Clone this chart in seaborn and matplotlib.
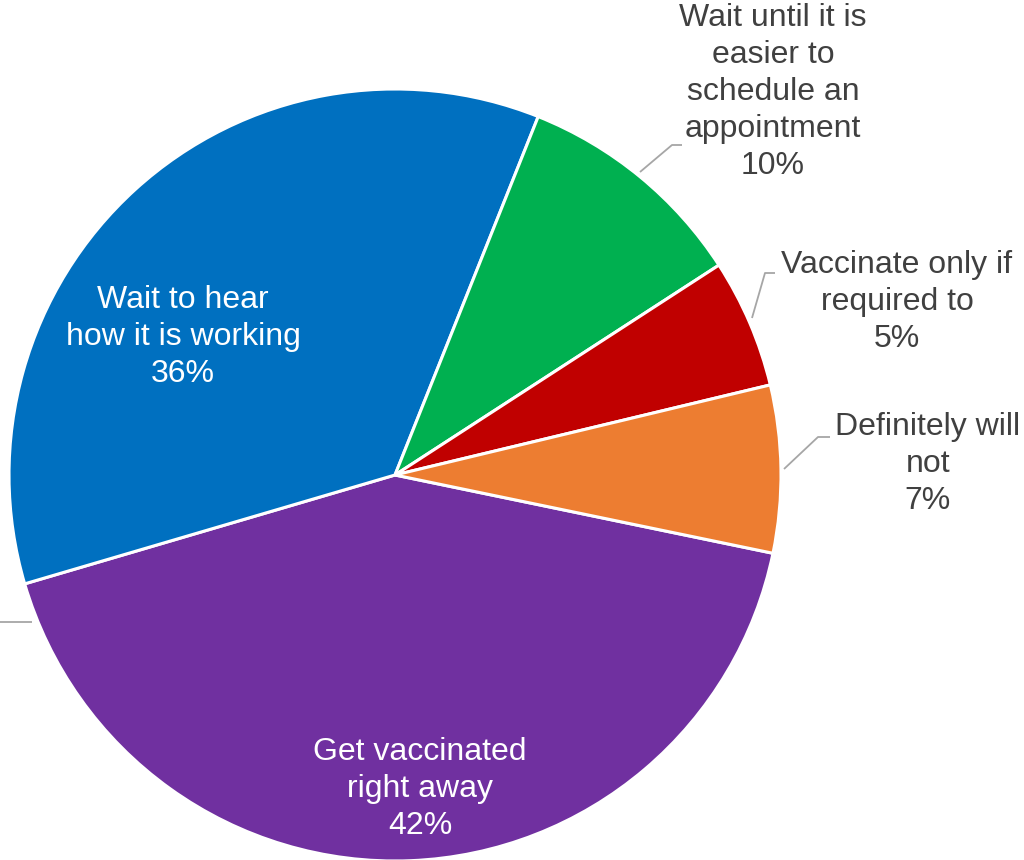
import matplotlib
matplotlib.use("Agg")
import matplotlib.pyplot as plt
import seaborn as sns

# data (clockwise order as drawn)
categories = ["Get vaccinated\nright away",
              "Wait to hear\nhow it is working",
              "Wait until it is\neasier to\nschedule an\nappointment",
              "Vaccinate only if\nrequired to",
              "Definitely will\nnot"]
shares = [42.2, 35.6, 9.8, 5.4, 7.0]
colors = ["#7030A0", "#0070C0", "#00B050", "#C00000", "#ED7D31"]

sns.set_theme(style="white")
plt.rcParams["font.family"] = ["Liberation Sans", "DejaVu Sans"]

W, H = 1024, 860
fig = plt.figure(figsize=(W / 100, H / 100), dpi=100)
ax = fig.add_axes([0, 0, 1, 1])

cx, cy, r = 395, H - 475, 386
ax.pie(shares, colors=colors, startangle=-11.7, counterclock=False,
       center=(cx, cy), radius=r, frame=True,
       wedgeprops=dict(edgecolor="white", linewidth=2.2))
ax.set_xlim(0, W)
ax.set_ylim(0, H)
ax.set_aspect("equal")
ax.axis("off")

labels = [f"{c}\n{round(v)}%" for c, v in zip(categories, shares)]

# label anchors (pixels from top-left) and whether inside
label_pos = [(420, 789), (183, 337), (773, 92), (897, 302), (928, 464)]
inside = [True, True, False, False, False]
for lab, (x, y), ins in zip(labels, label_pos, inside):
    ax.text(x, H - y, lab, ha="center", va="center", fontsize=23,
            linespacing=1.3, color="white" if ins else "#404040")

# leader lines
leaders = [
    [(640, 172), (672, 145), (682, 145)],
    [(752, 318), (765, 273), (775, 273)],
    [(784, 469), (818, 437), (830, 437)],
    [(32, 622), (0, 622)],
]
for pts in leaders:
    ax.plot([p[0] for p in pts], [H - p[1] for p in pts],
            color="#A6A6A6", lw=1.3, solid_capstyle="butt")

fig.savefig("out.png", dpi=100)
